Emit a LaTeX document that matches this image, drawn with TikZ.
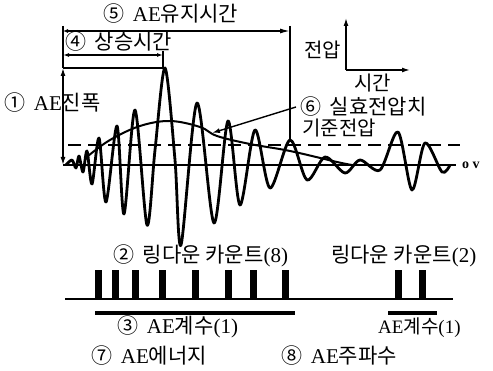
\documentclass[tikz,border=0pt]{standalone}
\usepackage{fontspec}
\setmainfont{Liberation Serif}
\newfontfamily\kr{Noto Sans CJK KR}
\usetikzlibrary{arrows.meta,positioning}

\begin{document}
\begin{tikzpicture}[x=1pt,y=-1pt,
	lbl/.style={anchor=west,inner sep=0pt,font=\fontsize{21}{23}\selectfont},
	wave/.style={line width=2.8pt,line join=round},
	dim/.style={line width=1.4pt},
	tip/.style={-{Latex[length=8pt,width=5pt]}},
	bar/.style={line width=3.5pt}]
	
	\useasboundingbox (0,0) rectangle (493,371);
	
	% dimension points
	\coordinate (ltop) at (63,26);
	\coordinate (amptop) at (63,68);
	\coordinate (ampbot) at (63,165);
	\coordinate (peak) at (165,68);
	\coordinate (rise0) at (63,55);
	\coordinate (rise1) at (163,55);
	\coordinate (risetick) at (163,51);
	\coordinate (dur0) at (63,31);
	\coordinate (dur1) at (290,31);
	\coordinate (durtop) at (290,26);
	\coordinate (durend) at (290,140);
	\coordinate (base0) at (63,165);
	\coordinate (base1) at (456,165);
	\coordinate (thr0) at (68,145);
	\coordinate (thr1) at (460,145);
	\coordinate (rmspt) at (212,133);
	
	% labels
	\node[lbl] (lbl5) at (103,14) {{\kr ⑤}\, AE{\kr 유지시간}};
	\node[lbl] (lbl4) at (65,42) {{\kr ④}\, {\kr 상승시간}};
	\node[lbl] (lbl1) at (4,103) {{\kr ①}\, AE{\kr 진폭}};
	\node[lbl,font=\fontsize{20}{22}\selectfont] (volt) at (304,50) {{\kr 전압}};
	\node[lbl,font=\fontsize{20}{22}\selectfont] (time) at (354,83) {{\kr 시간}};
	\node[lbl] (lbl6) at (300,107) {{\kr ⑥}\, {\kr 실효전압치}};
	\node[lbl,font=\fontsize{20}{22}\selectfont] (thr) at (302,128) {{\kr 기준전압}};
	\node[lbl,font=\fontsize{14}{16}\selectfont\bfseries] (zero) at (462,165) {o v};
	\node[lbl] (lbl2) at (113,256) {{\kr ②}\, {\kr 링다운 카운트}(8)};
	\node[lbl] (ring2) at (331,256) {{\kr 링다운 카운트}(2)};
	\node[lbl] (lbl3) at (117,327) {{\kr ③}\, AE{\kr 계수}(1)};
	\node[lbl,font=\fontsize{19}{21}\selectfont] (cnt2) at (378,328) {AE{\kr 계수}(1)};
	\node[lbl] (lbl7) at (91,356) {{\kr ⑦}\, AE{\kr 에너지}};
	\node[lbl] (lbl8) at (281,356) {{\kr ⑧}\, AE{\kr 주파수}};
	
	% axes
	\coordinate (ax0) at (346,70);
	\draw[dim,tip] (ax0) -- (346,18);
	\draw[dim,tip] (ax0) -- (410,70);
	
	% base and threshold
	\draw[line width=2pt] (base0) -- (base1);
	\draw[dim,dash pattern=on 13pt off 7pt] (thr0) -- (thr1);
	
	% burst signal
	\draw[wave] plot[smooth,tension=0.5] coordinates {(66,165) (72,160) (76,168)
		(79,156) (83,172) (87,151) (92,184) (99,138) (106,202) (117,126) (124,214)
		(135,110) (147,225) (155,150) (165,68) (175,160) (181,245) (197,103) (214,223) (228,121)
		(240,205) (255,130) (270,188) (290,140) (307,180) (325,157) (345,173)
		(360,160) (380,170) (398,132) (412,190) (425,143) (442,172) (450,165)};
	
	% rms curve
	\draw[line width=2pt] plot[smooth,tension=0.6] coordinates {(88,156) (110,140)
		(140,126) (170,121) (200,127) (217,136) (250,144) (290,151) (337,162) (352,165)};
	\draw[dim,tip] ([xshift=-4pt]lbl6.west) -- (rmspt);
	
	% dimensions
	\draw[dim] (ltop) -- (amptop);
	\draw[dim,{Latex[length=8pt,width=5pt]}-{Latex[length=8pt,width=5pt]}] (amptop) -- (ampbot);
	\draw[dim] (amptop) -- (peak);
	\draw[dim,{Latex[length=6pt,width=4pt]}-{Latex[length=6pt,width=4pt]}] (rise0) -- (rise1);
	\draw[dim] (risetick) -- (163,68);
	\draw[dim,{Latex[length=5pt,width=4pt]}-{Latex[length=10pt,width=5pt]}] (dur0) -- (dur1);
	\draw[dim] (durtop) -- (durend);
	
	% ring-down pulses
	\draw[line width=2pt] (65,299) -- (453,299);
	\foreach \px in {98,115,135,162,195,228,253,285,398,422}
	\fill (\px-3.5,270) rectangle (\px+3.5,299);
	
	% event bars
	\draw[bar] (95,313) -- (295,313);
	\draw[bar] (388,313) -- (437,313);
	
\end{tikzpicture}
\end{document}
